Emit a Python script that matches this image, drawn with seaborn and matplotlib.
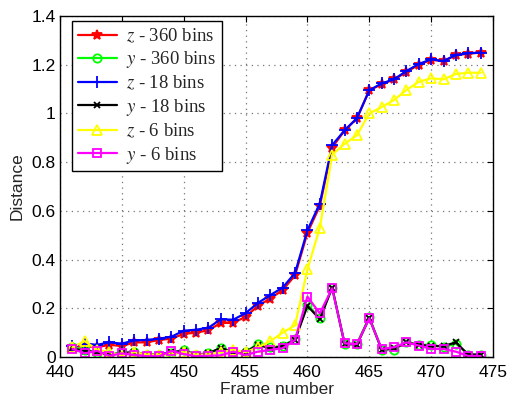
import matplotlib
matplotlib.use("Agg")
import matplotlib.pyplot as plt
import seaborn as sns
import numpy as np

frames = list(range(441, 475))

z_360 = [0.040, 0.045, 0.040, 0.050, 0.045, 0.060, 0.060, 0.070, 0.075, 0.095,
         0.100, 0.110, 0.140, 0.140, 0.165, 0.210, 0.240, 0.275, 0.335, 0.510,
         0.620, 0.860, 0.930, 0.980, 1.095, 1.120, 1.140, 1.170, 1.200, 1.220,
         1.215, 1.240, 1.245, 1.250]
y_360 = [0.040, 0.030, 0.015, 0.010, 0.020, 0.020, 0.010, 0.010, 0.015, 0.030,
         0.010, 0.015, 0.035, 0.020, 0.020, 0.055, 0.040, 0.045, 0.075, 0.215,
         0.160, 0.285, 0.055, 0.055, 0.165, 0.030, 0.030, 0.060, 0.050, 0.050,
         0.040, 0.055, 0.010, 0.010]
z_18 = [0.045, 0.055, 0.050, 0.060, 0.055, 0.068, 0.070, 0.075, 0.083, 0.108,
        0.112, 0.120, 0.155, 0.153, 0.180, 0.222, 0.254, 0.285, 0.345, 0.520,
        0.630, 0.870, 0.930, 0.980, 1.095, 1.123, 1.140, 1.174, 1.203, 1.222,
        1.215, 1.240, 1.247, 1.250]
y_18 = [0.035, 0.025, 0.020, 0.010, 0.015, 0.020, 0.010, 0.010, 0.020, 0.025,
        0.010, 0.015, 0.038, 0.020, 0.020, 0.050, 0.035, 0.045, 0.070, 0.210,
        0.155, 0.285, 0.055, 0.050, 0.160, 0.030, 0.035, 0.060, 0.050, 0.045,
        0.045, 0.060, 0.010, 0.010]
z_6 = [0.040, 0.065, 0.030, 0.020, 0.005, 0.020, 0.010, 0.010, 0.010, 0.020,
       0.010, 0.010, 0.020, 0.030, 0.020, 0.040, 0.065, 0.100, 0.130, 0.360,
       0.530, 0.830, 0.875, 0.910, 1.000, 1.026, 1.055, 1.096, 1.130, 1.144,
       1.140, 1.162, 1.167, 1.167]
y_6 = [0.033, 0.015, 0.025, 0.005, 0.015, 0.008, 0.003, 0.003, 0.025, 0.012,
       0.003, 0.005, 0.007, 0.022, 0.008, 0.022, 0.029, 0.036, 0.070, 0.248,
       0.179, 0.282, 0.056, 0.053, 0.159, 0.033, 0.040, 0.060, 0.047, 0.033,
       0.033, 0.022, 0.004, 0.004]

labels = [r"$z$ - 360 bins", r"$y$ - 360 bins", r"$z$ - 18 bins",
          r"$y$ - 18 bins", r"$z$ - 6 bins", r"$y$ - 6 bins"]

x_ticks = [440, 445, 450, 455, 460, 465, 470, 475]
y_ticks = [0, 0.2, 0.4, 0.6, 0.8, 1, 1.2, 1.4]
y_tick_labels = ["0", "0.2", "0.4", "0.6", "0.8", "1", "1.2", "1.4"]

sns.set_style("white")
plt.rcParams["font.family"] = ["Liberation Sans", "DejaVu Sans"]
plt.rcParams["mathtext.fontset"] = "stix"

fig = plt.figure(figsize=(5.08, 4.01), dpi=100)
ax = fig.add_axes([60 / 508, 1 - 357 / 401, (493 - 60) / 508, (357 - 16) / 401])

styles = [
    (z_360, "#ff0000", "*", "#ff0000", 7),
    (y_360, "#00ff00", "o", "none", 6),
    (z_18, "#0000ff", "+", "#0000ff", 8),
    (y_18, "#000000", "x", "#000000", 5),
    (z_6, "#ffff00", "^", "none", 7),
    (y_6, "#ff00ff", "s", "none", 6),
]

for (vals, col, mk, mfc, ms), lab in zip(styles, labels):
    sns.lineplot(x=frames, y=vals, ax=ax, color=col, linewidth=1.6,
                 marker=mk, markersize=ms, markerfacecolor=mfc,
                 markeredgecolor=col, markeredgewidth=1.3, label=lab)

ax.set_xlim(440, 475)
ax.set_ylim(0, 1.4)
ax.set_xticks(x_ticks)
ax.set_yticks(y_ticks)
ax.set_yticklabels(y_tick_labels)
ax.tick_params(direction="in", length=4, width=0.8, labelsize=12.5,
               top=True, right=True, colors="black", pad=3)
ax.tick_params(axis="x", pad=6)
ax.grid(True, linestyle=(0, (1, 3.5)), color="#777777", linewidth=0.9)
for s in ax.spines.values():
    s.set_visible(True)
    s.set_color("black")
    s.set_linewidth(1.0)

ax.set_xlabel("Frame number", fontsize=12.5, labelpad=1)
ax.set_ylabel("Distance", fontsize=12.5, labelpad=5)

leg = ax.legend(loc="upper left", bbox_to_anchor=(12 / 433, 1 - 5 / 341),
                borderaxespad=0,
                prop={"family": "Liberation Serif", "size": 13.5},
                frameon=True, fancybox=False, edgecolor="black",
                framealpha=1, handlelength=2.1, handletextpad=0.5,
                borderpad=0.3, labelspacing=0.22)
leg.get_frame().set_linewidth(1.0)

fig.savefig("out.png", dpi=100)
